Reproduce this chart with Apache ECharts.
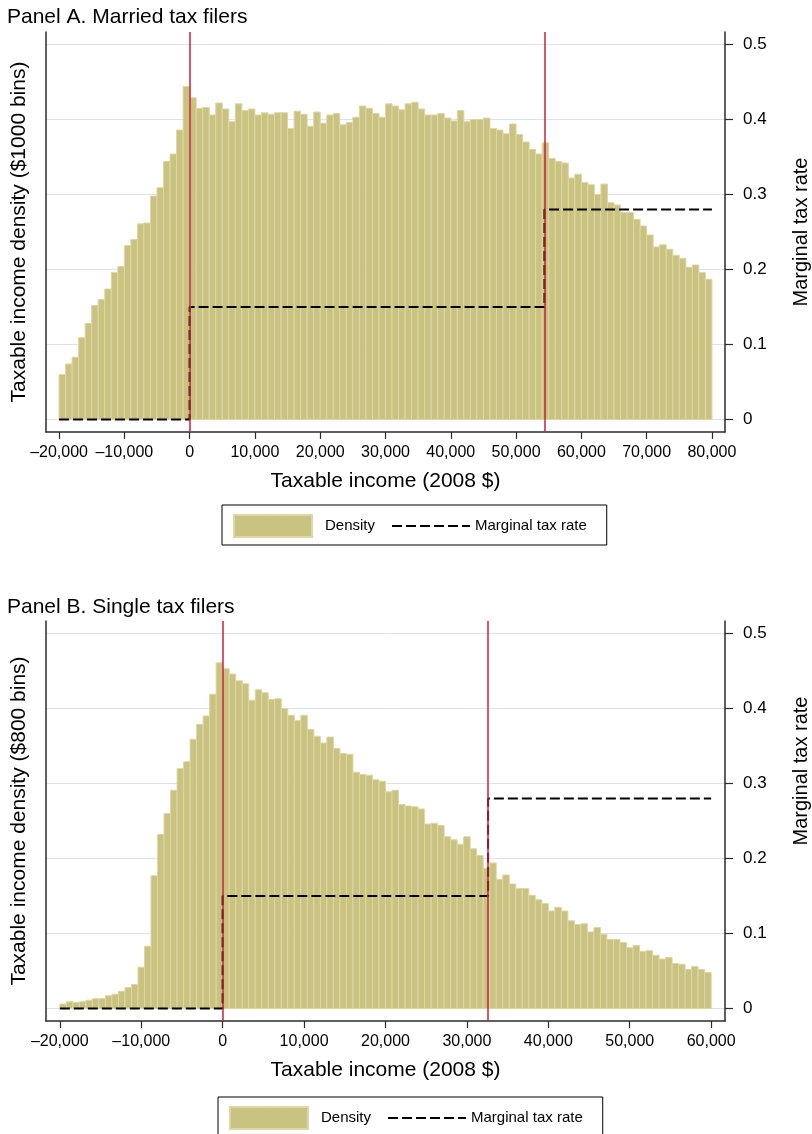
<!DOCTYPE html>
<html>
<head>
<meta charset="utf-8">
<title>Taxable income density</title>
<script src="https://cdn.jsdelivr.net/npm/echarts@6/dist/echarts.min.js"></script>
<style>
  html, body { margin: 0; padding: 0; background: #fff; }
  #chart { width: 812px; height: 1134px; }
</style>
</head>
<body>
<div id="chart"></div>
<script>
// Panel A: married filers, $1000 bins starting at -20,000
const binStartA = -20000;
const binWidthA = 1000;
const densityA = [
  0.060, 0.074, 0.083, 0.109, 0.128, 0.152, 0.160, 0.174, 0.196, 0.204,
  0.232, 0.240, 0.261, 0.262, 0.298, 0.309, 0.344, 0.354, 0.386, 0.444,
  0.429, 0.415, 0.416, 0.406, 0.422, 0.414, 0.397, 0.421, 0.412, 0.414,
  0.406, 0.409, 0.407, 0.409, 0.409, 0.388, 0.411, 0.407, 0.391, 0.410,
  0.395, 0.406, 0.408, 0.393, 0.396, 0.403, 0.418, 0.415, 0.408, 0.403,
  0.421, 0.418, 0.413, 0.421, 0.423, 0.414, 0.406, 0.406, 0.408, 0.402,
  0.398, 0.412, 0.397, 0.400, 0.400, 0.402, 0.388, 0.386, 0.381, 0.394,
  0.380, 0.370, 0.360, 0.354, 0.369, 0.348, 0.344, 0.342, 0.322, 0.327,
  0.316, 0.313, 0.300, 0.314, 0.289, 0.286, 0.276, 0.276, 0.267, 0.258,
  0.246, 0.230, 0.233, 0.227, 0.219, 0.215, 0.203, 0.206, 0.196, 0.187
];
const rateEdgesA = [-20000, 0, 54350, 80000];
const ratesA = [0, 0.15, 0.28];
const kinksA = [0, 54350];
const xTicksA = [-20000, -10000, 0, 10000, 20000, 30000, 40000, 50000, 60000, 70000, 80000];

// Panel B: single filers, $800 bins starting at -20,000
const binStartB = -20000;
const binWidthB = 800;
const densityB = [
  0.006, 0.009, 0.008, 0.009, 0.011, 0.013, 0.013, 0.017, 0.019, 0.023,
  0.028, 0.032, 0.055, 0.083, 0.177, 0.232, 0.260, 0.291, 0.320, 0.329,
  0.359, 0.379, 0.390, 0.419, 0.461, 0.453, 0.446, 0.437, 0.433, 0.411,
  0.425, 0.421, 0.412, 0.413, 0.400, 0.391, 0.384, 0.391, 0.372, 0.363,
  0.354, 0.362, 0.347, 0.340, 0.339, 0.315, 0.312, 0.311, 0.305, 0.303,
  0.289, 0.291, 0.272, 0.270, 0.269, 0.266, 0.246, 0.247, 0.244, 0.229,
  0.225, 0.219, 0.229, 0.213, 0.204, 0.187, 0.194, 0.172, 0.178, 0.166,
  0.160, 0.160, 0.151, 0.145, 0.140, 0.130, 0.135, 0.130, 0.117, 0.112,
  0.113, 0.102, 0.108, 0.099, 0.092, 0.092, 0.088, 0.081, 0.084, 0.076,
  0.077, 0.071, 0.066, 0.068, 0.060, 0.059, 0.052, 0.056, 0.052, 0.048
];
const rateEdgesB = [-20000, 0, 32600, 60000];
const ratesB = [0, 0.15, 0.28];
const kinksB = [0, 32600];
const xTicksB = [-20000, -10000, 0, 10000, 20000, 30000, 40000, 50000, 60000];

const yTicks = [0, 0.1, 0.2, 0.3, 0.4, 0.5];

const FONT = 'Liberation Sans, Arial, Helvetica, sans-serif';
const BAR_FILL = '#c9c280';
const BAR_EDGE = '#dcd7a4';
const KINK_RED = '#c8203a';
const AXIS_COLOR = '#2b2b2b';
const GRID_COLOR = '#dde2f1';

function binData(start, width, dens) {
  return dens.map((d, i) => [start + i * width, start + (i + 1) * width, d]);
}

function stepData(edges, rates) {
  const pts = rates.map((r, i) => [edges[i], r]);
  pts.push([edges[edges.length - 1], rates[rates.length - 1]]);
  return pts;
}

function renderBin(params, api) {
  const lo = api.coord([api.value(0), 0]);
  const hi = api.coord([api.value(1), api.value(2)]);
  return {
    type: 'rect',
    shape: { x: lo[0], y: hi[1], width: hi[0] - lo[0], height: lo[1] - hi[1] },
    style: { fill: BAR_FILL, stroke: BAR_EDGE, lineWidth: 1 }
  };
}

function fmtMoney(v) {
  const s = Math.abs(v).toLocaleString('en-US');
  return v < 0 ? '\u2013' + s : s;
}

function xAxisCfg(gridIndex, min, max, ticks) {
  return {
    type: 'value', gridIndex, min, max,
    name: 'Taxable income (2008 $)',
    nameLocation: 'middle', nameGap: 39,
    nameTextStyle: { fontSize: 21, color: '#000', fontFamily: FONT },
    axisLine: { show: true, onZero: false, lineStyle: { color: AXIS_COLOR, width: 1.5 } },
    axisTick: { show: true, customValues: ticks, length: 7, lineStyle: { color: AXIS_COLOR, width: 1.2 } },
    axisLabel: { customValues: ticks, formatter: fmtMoney, margin: 13, fontSize: 16, color: '#000', fontFamily: FONT },
    splitLine: { show: false }
  };
}

function leftAxisCfg(gridIndex, title) {
  return {
    type: 'value', gridIndex, position: 'left', min: -0.0167, max: 0.5167,
    name: title, nameLocation: 'middle', nameGap: 16,
    nameTextStyle: { fontSize: 21, color: '#000', fontFamily: FONT },
    axisLine: { show: true, onZero: false, lineStyle: { color: AXIS_COLOR, width: 1.5 } },
    axisTick: { show: false },
    axisLabel: { show: false },
    splitLine: { show: false }
  };
}

function rightAxisCfg(gridIndex, namePad) {
  return {
    type: 'value', gridIndex, position: 'right', min: -0.0167, max: 0.5167,
    name: 'Marginal tax rate', nameLocation: 'middle', nameGap: 66, nameRotate: 90,
    nameTextStyle: { fontSize: 20, color: '#000', fontFamily: FONT, padding: namePad },
    axisLine: { show: true, onZero: false, lineStyle: { color: AXIS_COLOR, width: 1.5 } },
    axisTick: { show: true, customValues: yTicks, length: 8, lineStyle: { color: AXIS_COLOR, width: 1.2 } },
    axisLabel: { customValues: yTicks, margin: 18, fontSize: 17, color: '#000', fontFamily: FONT },
    splitLine: { show: true, lineStyle: { color: GRID_COLOR, width: 1 } }
  };
}

function legendCfg(left, top) {
  return {
    left, top,
    orient: 'horizontal',
    borderColor: '#000', borderWidth: 1,
    padding: [9, 20, 7, 11],
    itemWidth: 78, itemHeight: 22, itemGap: 16,
    textStyle: { fontSize: 15, color: '#000', fontFamily: FONT },
    data: [
      { name: 'Density', icon: 'rect', textStyle: { padding: [0, 0, 0, 8] } },
      { name: 'Marginal tax rate', itemStyle: { opacity: 0 } }
    ],
    selectedMode: false
  };
}

function panelSeries(idx, bins, steps, kinks) {
  const xi = idx, yl = idx * 2, yr = idx * 2 + 1;
  return [
    {
      name: 'kinks', type: 'line', xAxisIndex: xi, yAxisIndex: yl, z: 1,
      data: [],
      markLine: {
        silent: true, symbol: ['none', 'none'], label: { show: false },
        lineStyle: { type: 'solid', color: KINK_RED, width: 1.5 },
        data: kinks.map(k => ({ xAxis: k }))
      }
    },
    {
      name: 'Density', type: 'custom', xAxisIndex: xi, yAxisIndex: yl, z: 2,
      renderItem: renderBin,
      itemStyle: { color: BAR_FILL, borderColor: BAR_EDGE, borderWidth: 1 },
      encode: { x: [0, 1], y: 2 },
      data: bins
    },
    {
      name: 'Marginal tax rate', type: 'line', xAxisIndex: xi, yAxisIndex: yr, z: 3,
      step: 'end', symbol: 'none',
      lineStyle: { color: '#000', width: 2, type: [10, 4] },
      itemStyle: { color: '#000' },
      data: steps
    }
  ];
}

const chart = echarts.init(document.getElementById('chart'), null, { renderer: 'canvas' });

chart.setOption({
  animation: false,
  backgroundColor: '#fff',
  title: [
    { text: 'Panel A. Married tax filers', left: 7, top: 7, padding: 0,
      textStyle: { fontSize: 21, fontWeight: 'normal', color: '#000', fontFamily: FONT } },
    { text: 'Panel B. Single tax filers', left: 7, top: 597, padding: 0,
      textStyle: { fontSize: 21, fontWeight: 'normal', color: '#000', fontFamily: FONT } }
  ],
  legend: [legendCfg(222, 505), legendCfg(218, 1097)],
  grid: [
    { left: 46, right: 87, top: 32, height: 400, outerBoundsMode: 'none', containLabel: false },
    { left: 46, right: 87, top: 621, height: 400, outerBoundsMode: 'none', containLabel: false }
  ],
  xAxis: [
    xAxisCfg(0, -22000, 82000, xTicksA),
    xAxisCfg(1, -21700, 61700, xTicksB)
  ],
  yAxis: [
    leftAxisCfg(0, 'Taxable income density ($1000 bins)'),
    rightAxisCfg(0, [0, 0, 0, 0]),
    leftAxisCfg(1, 'Taxable income density ($800 bins)'),
    rightAxisCfg(1, [0, 0, 0, 100])
  ],
  series: [
    ...panelSeries(0, binData(binStartA, binWidthA, densityA), stepData(rateEdgesA, ratesA), kinksA),
    ...panelSeries(1, binData(binStartB, binWidthB, densityB), stepData(rateEdgesB, ratesB), kinksB)
  ]
});
</script>
</body>
</html>
